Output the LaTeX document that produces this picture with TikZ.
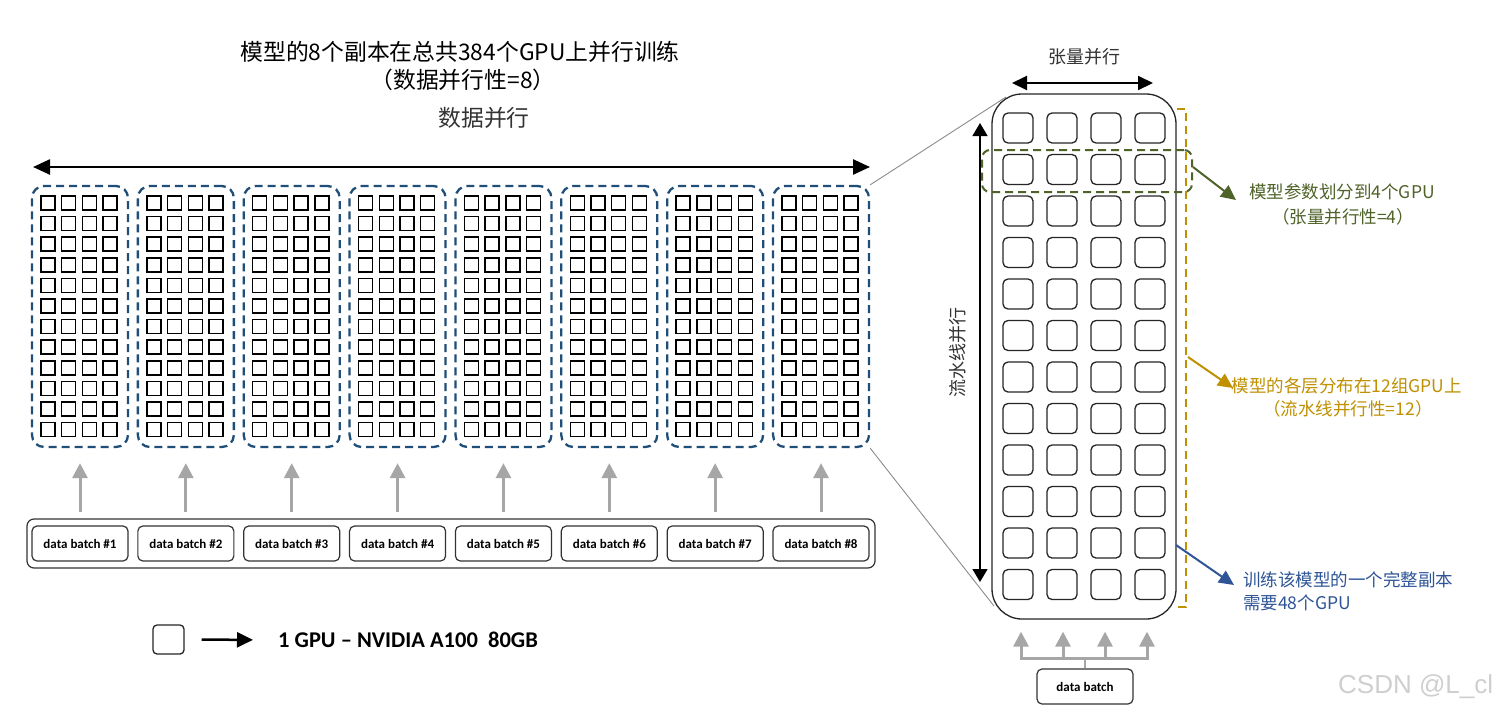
\documentclass[tikz,border=0pt]{standalone}
\usepackage{fontspec}
\setmainfont{Carlito}
\newfontfamily\cjk{Noto Sans CJK SC}
\newfontfamily\wmfont{Liberation Sans}
\usetikzlibrary{arrows.meta}
\definecolor{repblue}{HTML}{1F4E79}
\definecolor{tpgreen}{HTML}{4F6228}
\definecolor{ppgold}{HTML}{BF9000}
\definecolor{dpblue}{HTML}{2F5597}
\definecolor{arrowgray}{HTML}{A6A6A6}
\definecolor{labelgray}{HTML}{333333}
\definecolor{zoomgray}{HTML}{8C8C8C}
\definecolor{wmgray}{HTML}{CFCFCF}
\begin{document}
\begin{tikzpicture}[x=1pt,y=-1pt,
  replica/.style={draw=repblue, line width=2.3pt, dash pattern=on 8pt off 5pt, rounded corners=12pt, minimum width=96pt, minimum height=261pt, inner sep=0pt},
  batchbox/.style={draw=black!80, line width=1.2pt, rounded corners=5pt, minimum width=96pt, minimum height=35pt, inner sep=0pt, font=\bfseries\fontsize{13}{15}\selectfont},
  gpusmall/.style={draw=black, line width=1.5pt},
  gpubig/.style={draw=black!85, line width=1.3pt, rounded corners=5pt},
  feed/.style={draw=arrowgray, line width=3pt, -{Triangle[length=15pt,width=15pt]}},
  bigdbl/.style={line width=2.5pt, {Triangle[length=17pt,width=15pt]}-{Triangle[length=17pt,width=15pt]}},
  tpdbl/.style={line width=2pt, {Triangle[length=15pt,width=14pt]}-{Triangle[length=15pt,width=14pt]}},
  ppdbl/.style={line width=1.3pt, {Triangle[length=13pt,width=15pt]}-{Triangle[length=13pt,width=15pt]}},
  colarrow/.style={line width=2pt, -{Triangle[length=15pt,width=14pt]}},
  cjktitle/.style={font=\cjk\fontsize{22.8}{26}\selectfont, inner sep=0pt},
  cjklabel/.style={font=\cjk\fontsize{17.5}{20}\selectfont, inner sep=0pt},
  zoomline/.style={draw=zoomgray, line width=0.9pt}
]
\useasboundingbox (0,0) rectangle (1502,713);
\fill[white] (0,0) rectangle (1502,713);

% ---------- titles ----------
\node[cjktitle] (title1) at (460,52) {模型的8个副本在总共384个GPU上并行训练};
\node[cjktitle] (title2) at (463,80) {（数据并行性=8）};
\node[cjktitle, text=labelgray] (dplab) at (484,118) {数据并行};

\coordinate (dpl) at (33,167);
\coordinate (dpr) at (870,167);
\draw[bigdbl] (dpl) -- (dpr);

% ---------- replicas ----------
\foreach \i in {1,...,8}{
  \node[replica] (rep\i) at ({80+(\i-1)*105.86},316.5) {};
}
\foreach \i in {0,...,7}{
  \foreach \c in {0,...,3}{
    \foreach \r in {0,...,11}{
      \draw[gpusmall] ({41+\i*105.86+\c*20.7},{196+\r*20.6}) rectangle ++(14,14);
    }
  }
}

% ---------- data batches ----------
\node[draw=black!80, line width=1.2pt, rounded corners=7pt, minimum width=848pt, minimum height=49pt, inner sep=0pt] (batches) at (451,543.5) {};
\foreach \i in {1,...,8}{
  \node[batchbox] (b\i) at ({80+(\i-1)*105.86},543.5) {data batch \#\i};
  \draw[feed, shorten <=13pt, shorten >=15pt] (b\i.north) -- (rep\i.south);
}

% ---------- legend ----------
\node[draw=black!85, line width=1.3pt, rounded corners=4pt, minimum width=31pt, minimum height=29pt, inner sep=0pt] (leggpu) at (168.5,639.5) {};
\node[anchor=west, inner sep=0pt, font=\bfseries\fontsize{22.5}{26}\selectfont] (legtext) at (278,640) {1 GPU – NVIDIA A100\ \ 80GB};
\draw[line width=2.5pt, -{Triangle[length=16pt,width=15pt]}, shorten <=17pt, shorten >=25pt] (leggpu.east) -- (legtext.west);

% ---------- model (one replica) ----------
\node[draw=black!85, line width=1.3pt, rounded corners=30pt, minimum width=184pt, minimum height=525pt, inner sep=0pt] (model) at (1084,356.5) {};
\foreach \c in {0,...,3}{
  \foreach \r in {0,...,11}{
    \draw[gpubig] ({1003+\c*44},{113+\r*41.5}) rectangle ++(30,30);
  }
}

% zoom lines
\coordinate (zoomtop) at (1006,97);
\coordinate (zoombot) at (994,606);
\draw[zoomline] (rep8.north east) -- (zoomtop);
\draw[zoomline] (rep8.south east) -- (zoombot);

% tensor parallel
\node[cjklabel, font=\cjk\fontsize{18}{20}\selectfont, text=labelgray] (tplab) at (1084,57) {张量并行};
\coordinate (tpl) at (1012,83);
\coordinate (tpr) at (1153,83);
\draw[tpdbl] (tpl) -- (tpr);

% pipeline parallel
\node[cjklabel, font=\cjk\fontsize{18}{20}\selectfont, text=labelgray, rotate=90] (pplab) at (958,352) {流水线并行};
\coordinate (ppa) at (980,123);
\coordinate (ppb) at (980,582);
\draw[ppdbl] (ppa) -- (ppb);

% green group
\node[draw=tpgreen, line width=2pt, dash pattern=on 8pt off 5pt, rounded corners=8pt, minimum width=210pt, minimum height=42pt, inner sep=0pt] (tpgroup) at (1087,171) {};
\node[cjklabel, text=tpgreen] (tpl1) at (1342,192) {模型参数划分到4个GPU};
\node[cjklabel, text=tpgreen] (tpl2) at (1343,217) {（张量并行性=4）};
\coordinate (tpstart) at (1193,167);
\coordinate (tptip) at (1236,200);
\draw[colarrow, tpgreen] (tpstart) -- (tptip);

% gold bracket
\coordinate (pptop) at (1177,109);
\coordinate (ppbot) at (1186,607);
\draw[ppgold, line width=2.2pt, dash pattern=on 8pt off 5pt] (pptop) -| (ppbot) -- ++(-9,0);
\node[cjklabel, text=ppgold] (ppl1) at (1347,386) {模型的各层分布在12组GPU上};
\node[cjklabel, text=ppgold] (ppl2) at (1348,409) {（流水线并行性=12）};
\coordinate (ppstart) at (1188,357);
\coordinate (pptip) at (1233,388);
\draw[colarrow, ppgold] (ppstart) -- (pptip);

% blue label
\node[cjklabel, text=dpblue, anchor=west] (repl1) at (1243,580) {训练该模型的一个完整副本};
\node[cjklabel, text=dpblue, anchor=west] (repl2) at (1243,603) {需要48个GPU};
\coordinate (repstart) at (1176,545);
\coordinate (reptip) at (1234,585);
\draw[colarrow, dpblue] (repstart) -- (reptip);

% bottom data batch
\node[batchbox] (db) at (1085,686.5) {data batch};
\coordinate (busL) at (1021,658);
\coordinate (busR) at (1147,658);
\draw[arrowgray, line width=2pt] (db.north) -- (db.north |- busL);
\draw[arrowgray, line width=3pt] (busL) -- (busR);
\foreach \k/\x in {1/1021,2/1063,3/1105,4/1147}{
  \coordinate (fb\k) at (\x,659.5);
  \draw[feed, line width=3pt, shorten >=12pt] (fb\k) -- (fb\k |- model.south);
}

% watermark
\node[anchor=west, inner sep=0pt, font=\wmfont\fontsize{26}{30}\selectfont, text=wmgray] (wm) at (1338,687) {CSDN @L\_cl};
\end{tikzpicture}
\end{document}
